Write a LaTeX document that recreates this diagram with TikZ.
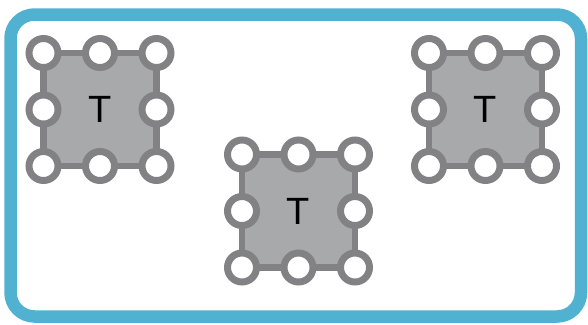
\documentclass[tikz,border=0pt]{standalone}
\usepackage{fontspec}
\setmainfont{Liberation Sans}
\usepackage{tikz}
\usetikzlibrary{
  positioning,
  calc
}
\definecolor{framecyan}{RGB}{80,178,208}
\definecolor{tilegray}{RGB}{167,169,171}
\definecolor{edgegray}{RGB}{130,130,133}
\tikzset{
  framebox/.style={draw=framecyan,line width=12.5pt,rounded corners=24pt},
  tilebox/.style={draw=edgegray,fill=tilegray,line width=6.5pt,
    minimum size=113pt,inner sep=0pt,outer sep=0pt,
    font=\fontsize{38}{38}\selectfont},
  padring/.style={circle,draw=edgegray,fill=white,line width=7pt,
    minimum size=29pt,inner sep=0pt}
}
\newcommand{\tile}[3]{%
  \node[tilebox] (#1) at (#2,#3) {T};%
  \foreach \an/\tag in {north west/nw,north/n,north east/ne,east/e,
      south east/se,south/s,south west/sw,west/w}{%
    \node[padring] (#1-\tag) at (#1.\an) {};%
  }%
}

\begin{document}
\begin{tikzpicture}[x=1pt,y=-1pt]
  \useasboundingbox (0,0) rectangle (588,324);
  \draw[framebox] (10.5,14.5) rectangle (581,316.5);
  \tile{left}{100}{109.5}
  \tile{mid}{298.5}{211}
  \tile{right}{485.5}{109.5}
\end{tikzpicture}
\end{document}
